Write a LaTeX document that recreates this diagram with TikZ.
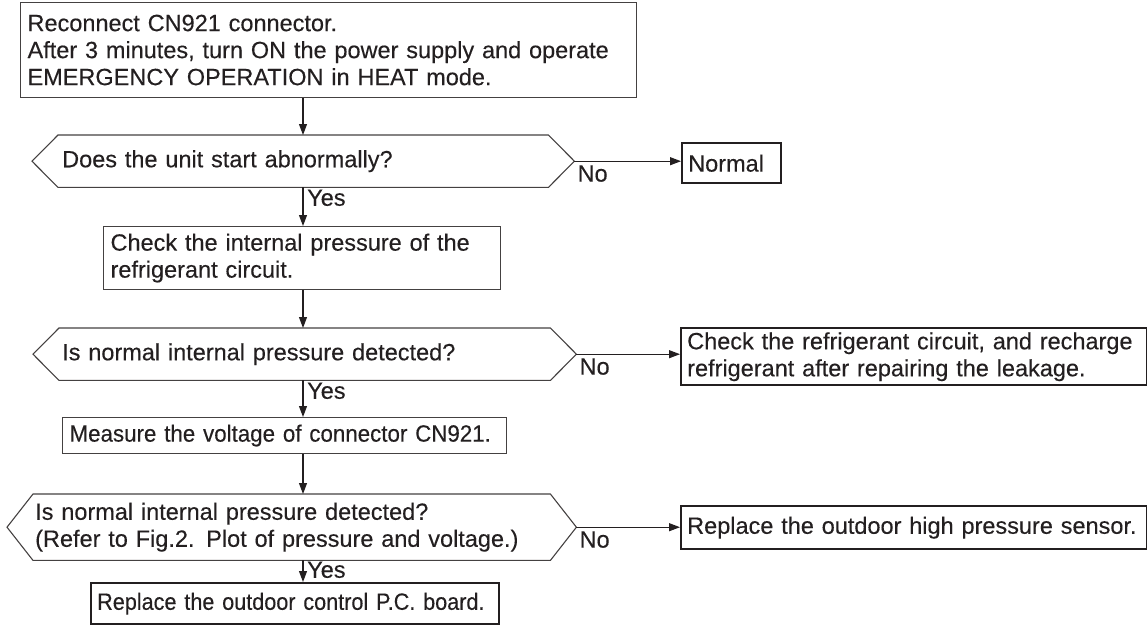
\documentclass[tikz,border=0pt]{standalone}
\usepackage{fontspec}
\setmainfont[FakeBold=0.25]{Liberation Sans}
\newfontfamily\condA[FakeStretch=0.95,FakeBold=0.25]{Liberation Sans}
\newfontfamily\condB[FakeStretch=0.92,FakeBold=0.25]{Liberation Sans}
\usetikzlibrary{arrows.meta,calc}
\definecolor{ink}{HTML}{231F20}
\begin{document}
\begin{tikzpicture}[x=1pt,y=-1pt,
  every node/.style={font=\fontsize{23.5}{27}\selectfont, text=ink},
  thinbox/.style={draw=ink!85, line width=1.1pt, inner xsep=7pt, inner ysep=0pt, align=left, anchor=north west},
  thickbox/.style={draw=ink, line width=2.4pt, inner xsep=6pt, inner ysep=0pt, align=left, anchor=north west},
  hexnode/.style={inner ysep=0pt, align=left, anchor=north west},
  hexline/.style={draw=ink!85, line width=1.1pt, line join=miter},
  lbl/.style={inner sep=0pt, anchor=north west},
  arr/.style={draw=ink, line width=1.1pt, -{Triangle[length=11pt,width=8pt]}}
]
\useasboundingbox (0,0) rectangle (1147,642);
\coordinate (spine) at (303,0);

% boxes
\node[thinbox, text width=602pt, minimum height=95pt] (b1) at (20,2)
  {\mbox{Reconnect CN921 connector.}\\\mbox{After 3 minutes, turn ON the power supply and operate}\\\mbox{EMERGENCY OPERATION in HEAT mode.}};
\node[thickbox, text width=87pt, minimum height=40pt] (nrm) at (681,142) {Normal};
\node[thinbox, text width=383pt, minimum height=63pt] (b2) at (103,226)
  {\mbox{Check the internal pressure of the}\\\mbox{refrigerant circuit.}};
\node[thickbox, text width=454pt, minimum height=57pt] (b3) at (680,327)
  {\mbox{Check the refrigerant circuit, and recharge}\\\mbox{refrigerant after repairing the leakage.}};
\node[thinbox, text width=430pt, minimum height=36pt] (b4) at (62,417)
  {\condA\mbox{Measure the voltage of connector CN921.}};
\node[thickbox, text width=454pt, minimum height=43pt] (b6) at (680,505)
  {\mbox{Replace the outdoor high pressure sensor.}};
\node[thickbox, text width=396pt, minimum height=41pt] (b5) at (90,582)
  {\condB\mbox{Replace the outdoor control P.C. board.}};

% decisions
\node[hexnode, text width=482pt, inner xsep=30pt, minimum height=52pt] (d1) at (32,135)
  {Does the unit start abnormally?};
\node[hexnode, text width=485pt, inner xsep=29pt, minimum height=52pt] (d2) at (33,328)
  {Is normal internal pressure detected?};
\node[hexnode, text width=513pt, inner xsep=28pt, minimum height=66pt] (d3) at (7,494)
  {\mbox{Is normal internal pressure detected?}\\\mbox{(Refer to Fig.2. Plot of pressure and voltage.)}};

\foreach \d/\s in {d1/26,d2/26,d3/26}{
  \draw[hexline] (\d.west) -- ($(\d.north west)+(\s,0)$) -- ($(\d.north east)+(-\s,0)$)
    -- (\d.east) -- ($(\d.south east)+(-\s,0)$) -- ($(\d.south west)+(\s,0)$) -- cycle;
}

% connectors
\draw[arr] (b1.south -| spine) -- (d1.north -| spine);
\draw[arr] (d1.south -| spine) -- (b2.north -| spine);
\draw[arr] (b2.south -| spine) -- (d2.north -| spine);
\draw[arr] (d2.south -| spine) -- (b4.north -| spine);
\draw[arr] (b4.south -| spine) -- (d3.north -| spine);
\draw[arr] (d3.south -| spine) -- (b5.north -| spine);
\draw[arr] (d1.east) -- (d1.east -| nrm.west);
\draw[arr] (d2.east) -- (d2.east -| b3.west);
\draw[arr] (d3.east) -- (d3.east -| b6.west);

% labels
\node[lbl] (y1) at ($(d1.south -| spine)+(4,2)$) {Yes};
\node[lbl] (y2) at ($(d2.south -| spine)+(4,2)$) {Yes};
\node[lbl] (y3) at ($(d3.south -| spine)+(4,1)$) {Yes};
\node[lbl] (n1) at ($(d1.east)+(3,4)$) {No};
\node[lbl] (n2) at ($(d2.east)+(3,4)$) {No};
\node[lbl] (n3) at ($(d3.east)+(3,4)$) {No};
\end{tikzpicture}
\end{document}
